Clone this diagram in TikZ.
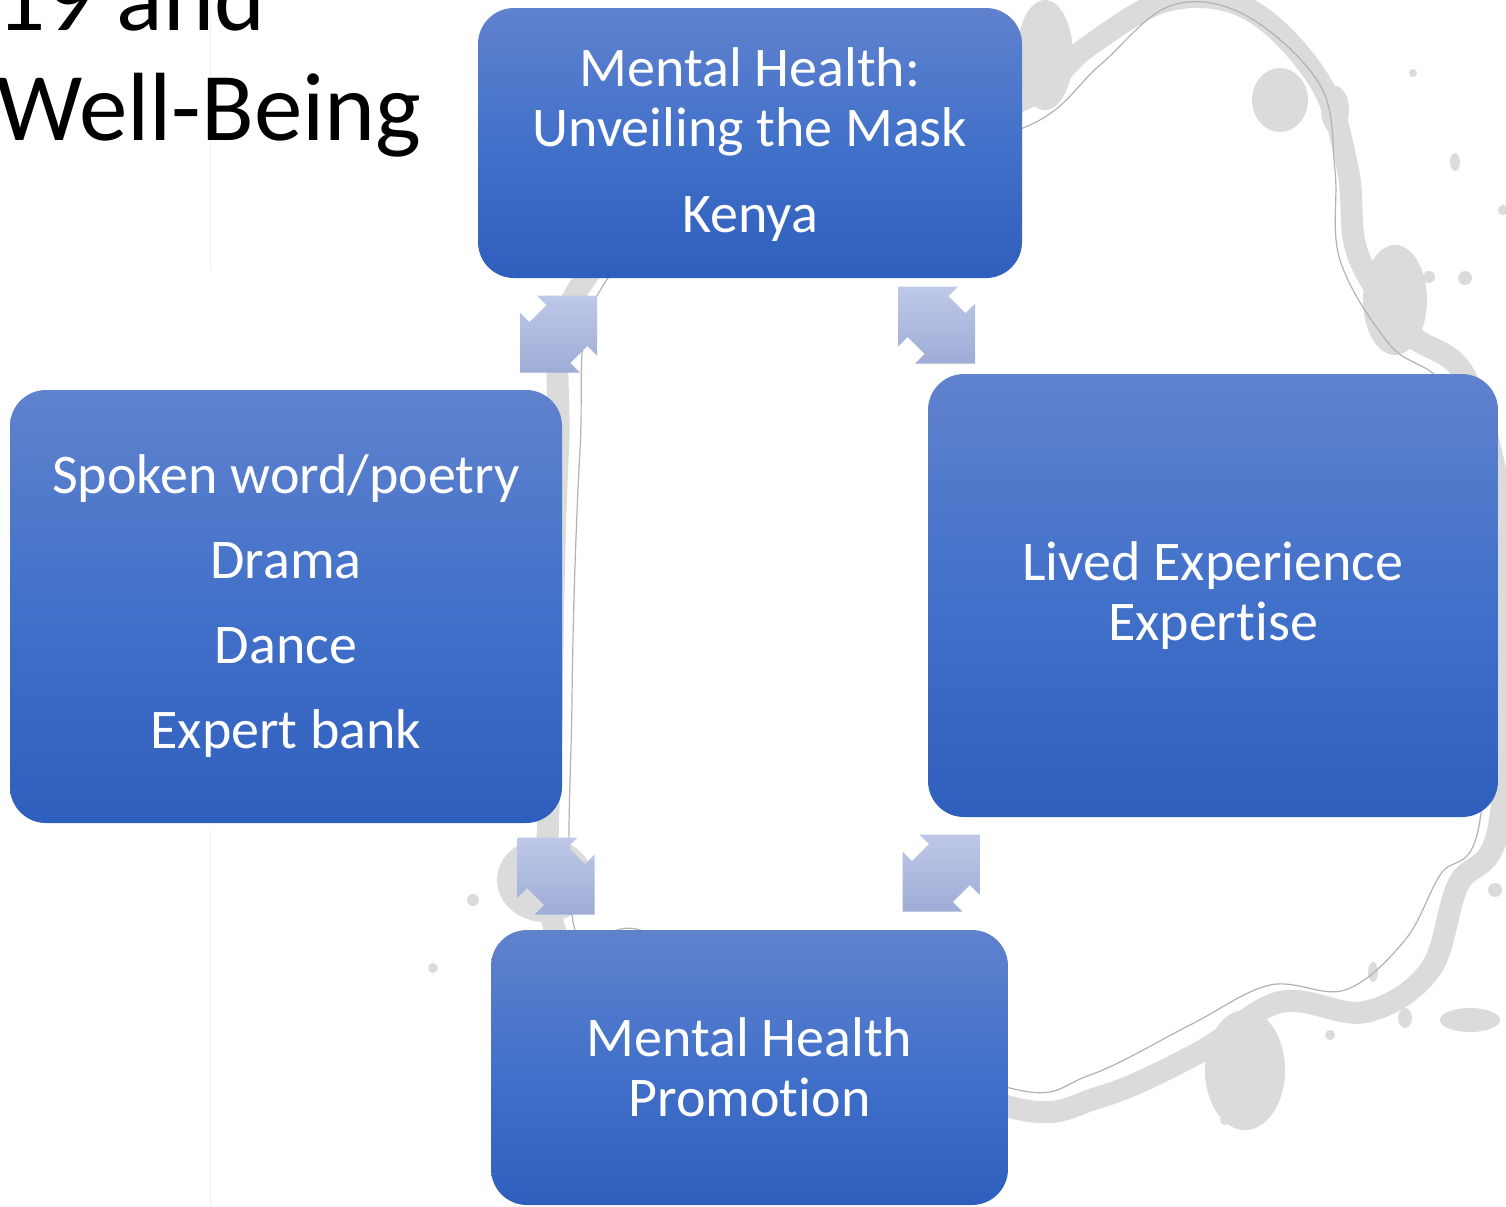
\documentclass[tikz,border=0pt]{standalone}
\usepackage{fontspec}
\setmainfont{Carlito}[Ligatures=NoCommon]
\usetikzlibrary{positioning}

\definecolor{boxtop}{RGB}{96,130,205}
\definecolor{boxmid}{RGB}{66,113,202}
\definecolor{boxbot}{RGB}{47,95,189}
\definecolor{arrtop}{RGB}{190,200,232}
\definecolor{arrbot}{RGB}{158,172,214}
\definecolor{splash}{RGB}{175,175,175}

\begin{document}
\begin{tikzpicture}[x=0.5pt, y=-0.5pt,
				box/.style={rectangle, rounded corners=18pt, top color=boxtop, bottom color=boxbot, middle color=boxmid, text=white, align=center, inner sep=0pt, font=\fontsize{28}{30}\selectfont},
				title/.style={anchor=base west, inner sep=0pt, font=\fontsize{48.5}{55}\selectfont},
				arrowfill/.style={top color=arrtop, bottom color=arrbot, draw=none},
				blot/.style={fill=splash, draw=none},
				dblarrow/.pic={\path[arrowfill] (38.5,-38.5) -- (-21.5,-38.5) -- (-11.9,-28.9) -- (-28.9,-11.9) -- (-38.5,-21.5) -- (-38.5,38.5) -- (21.5,38.5) -- (11.9,28.9) -- (28.9,11.9) -- (38.5,21.5) -- cycle;}
			]
			\useasboundingbox (0,0) rectangle (1506,1206);
			% ink splash behind the cycle
			\begin{scope}[transparency group, opacity=0.45]
			\draw[splash, line width=11pt, line join=round] plot[smooth cycle, tension=0.6] coordinates {(555,930) (552,700) (558,450) (572,300) (700,180) (880,140) (1022,100) (1090,45) (1170,0) (1250,10) (1320,82) (1348,170) (1358,255) (1408,332) (1468,382) (1506,550) (1500,820) (1458,885) (1430,970) (1365,1012) (1280,1002) (1200,1052) (1100,1097) (1010,1107) (800,1020) (640,950)};
			\fill[blot] (545,880) ellipse (48 and 42);
			\fill[blot] (1045,55) ellipse (28 and 55);
			\fill[blot] (1395,300) ellipse (32 and 55);
			\fill[blot] (1245,1070) ellipse (40 and 60);
			\fill[blot] (1280,100) ellipse (28 and 32);
			\fill[blot] (1335,110) ellipse (14 and 24);
			\fill[blot] (1413,73) circle (4);
			\fill[blot] (1455,162) ellipse (5 and 9);
			\fill[blot] (1503,210) circle (5);
			\fill[blot] (1429,277) circle (6);
			\fill[blot] (1465,278) circle (7);
			\fill[blot] (1495,890) circle (7);
			\fill[blot] (1470,1020) ellipse (30 and 12);
			\fill[blot] (1405,1018) ellipse (7 and 10);
			\fill[blot] (1373,972) ellipse (5 and 10);
			\fill[blot] (1225,1120) circle (5);
			\fill[blot] (1330,1035) circle (5);
			\fill[blot] (473,900) circle (6);
			\fill[blot] (433,968) circle (5);
			\end{scope}
			\draw[black!30, line width=0.6pt] plot[smooth cycle, tension=0.6] coordinates {(575,930) (572,700) (580,450) (595,300) (700,205) (880,165) (1030,125) (1100,65) (1170,6) (1245,15) (1320,85) (1335,170) (1340,260) (1390,345) (1450,395) (1490,550) (1480,820) (1440,875) (1405,940) (1345,990) (1270,985) (1190,1025) (1090,1075) (1010,1088) (800,1000) (640,930)};
			\draw[black!6, line width=0.5pt] (210,0) -- (210,270);
			\draw[black!6, line width=0.5pt] (210,830) -- (210,1206);

			% title
			\node[title] (title1) at (-4,30) {19 and};
			\node[title] (title2) [below=0pt of title1.base west, anchor=base west, yshift=-55pt] {Well-Being};

			% cycle boxes
			\node[box, minimum width=272pt, minimum height=135pt, text depth=3pt] (mask) at (750,143) {Mental Health:\\Unveiling the Mask\\[13pt]Kenya};
			\node[box, minimum width=285pt, minimum height=221.5pt] (lived) at (1213,595.5) {Lived Experience\\Expertise};
			\node[box, minimum width=258.5pt, minimum height=137.5pt] (promo) at (749.5,1067.5) {Mental Health\\Promotion};
			\node[box, minimum width=276pt, minimum height=216.5pt] (arts) at (286,606.5) {Spoken word/poetry\\[12.5pt]Drama\\[12.5pt]Dance\\[12.5pt]Expert bank};

			% double arrows between the boxes
			\pic at (558.5,334) {dblarrow};
			\pic[xscale=-1] at (936.5,325) {dblarrow};
			\pic[xscale=-1] at (556,876) {dblarrow};
			\pic at (941,873) {dblarrow};
			\end{tikzpicture}
\end{document}
